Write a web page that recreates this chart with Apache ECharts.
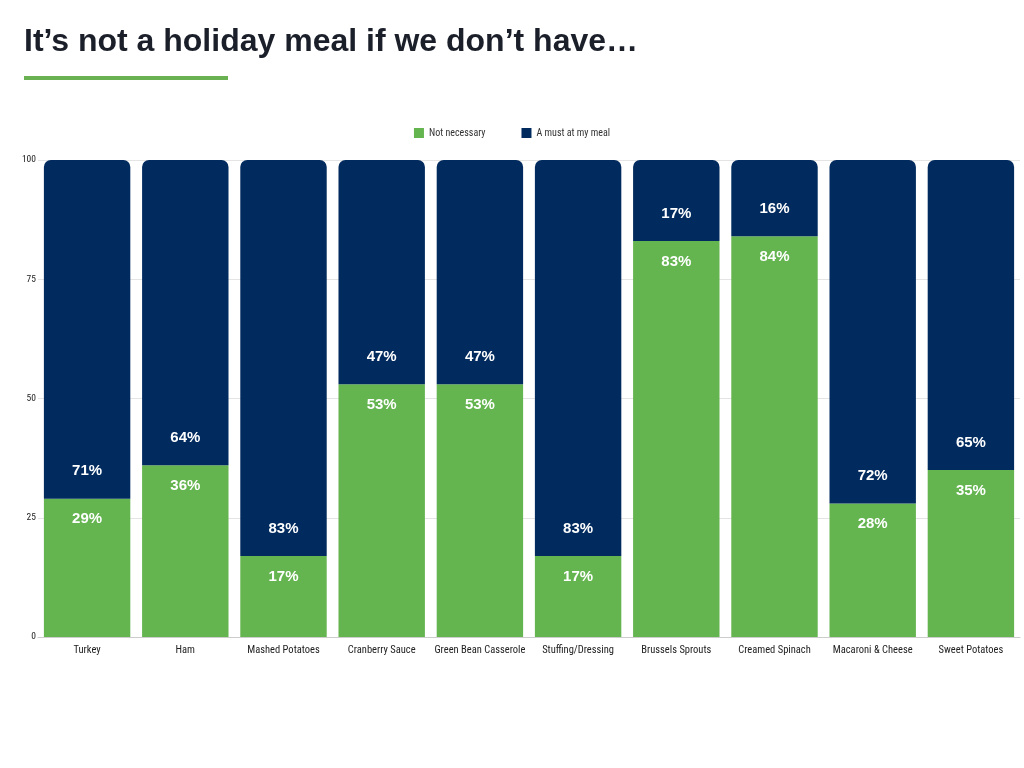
<!DOCTYPE html>
<html><head><meta charset="utf-8">
<script src="https://cdn.jsdelivr.net/npm/echarts@6/dist/echarts.min.js"></script>
<style>html,body{margin:0;padding:0;background:#fff}#c{width:1024px;height:768px}</style>
</head><body><div id="c"></div>
<script>
const categories = ["Turkey","Ham","Mashed Potatoes","Cranberry Sauce","Green Bean Casserole","Stuffing/Dressing","Brussels Sprouts","Creamed Spinach","Macaroni & Cheese","Sweet Potatoes"];
const notNecessary = [29,36,17,53,53,17,83,84,28,35];
const mustHave = [71,64,83,47,47,83,17,16,72,65];
const yTicks = [0,25,50,75,100];
const GREEN = '#64b450', NAVY = '#012a5e';
const chart = echarts.init(document.getElementById('c'));
const narrow = "'Liberation Sans Narrow', 'Roboto Condensed', Roboto, sans-serif";
chart.setOption({
  animation:false,
  title:{text:"It\u2019s not a holiday meal if we don\u2019t have\u2026",left:19,top:21,
    textStyle:{fontFamily:"'Liberation Sans', Arial, sans-serif",fontWeight:'bold',fontSize:32,color:'#1b1f2a'}},
  graphic:[{type:'rect',shape:{x:24,y:76,width:204,height:4},style:{fill:'#6ab152'}}],
  legend:{top:123,left:'center',itemWidth:10,itemHeight:10,itemGap:36,icon:'rect',
    textStyle:{fontFamily:narrow,fontSize:10,color:'#333'},
    data:['Not necessary','A must at my meal']},
  grid:{left:38,right:4,top:160,bottom:131,containLabel:false},
  xAxis:{type:'category',data:categories,
    axisLine:{lineStyle:{color:'#ccc'}},axisTick:{show:false},
    axisLabel:{fontFamily:narrow,fontSize:10.5,color:'#222',margin:8,interval:0}},
  yAxis:{type:'value',min:0,max:100,interval:25,
    axisLabel:{fontFamily:narrow,fontSize:9.5,color:'#222',margin:2,
      formatter:v=>yTicks.includes(v)?String(v):''},
    splitLine:{lineStyle:{color:'#e4e4e4'}}},
  series:[
    {name:'Not necessary',type:'bar',stack:'s',data:notNecessary,barCategoryGap:'12%',
      itemStyle:{color:GREEN},
      label:{show:true,position:'insideTop',distance:13,formatter:'{c}%',color:'#fff',
        fontFamily:"'Liberation Sans', Arial, sans-serif",fontWeight:'bold',fontSize:15}},
    {name:'A must at my meal',type:'bar',stack:'s',data:mustHave,barCategoryGap:'12%',
      itemStyle:{color:NAVY,borderRadius:[7,7,0,0]},
      label:{show:true,position:'insideBottom',distance:20,formatter:'{c}%',color:'#fff',
        fontFamily:"'Liberation Sans', Arial, sans-serif",fontWeight:'bold',fontSize:15}}
  ]
});
</script></body></html>
